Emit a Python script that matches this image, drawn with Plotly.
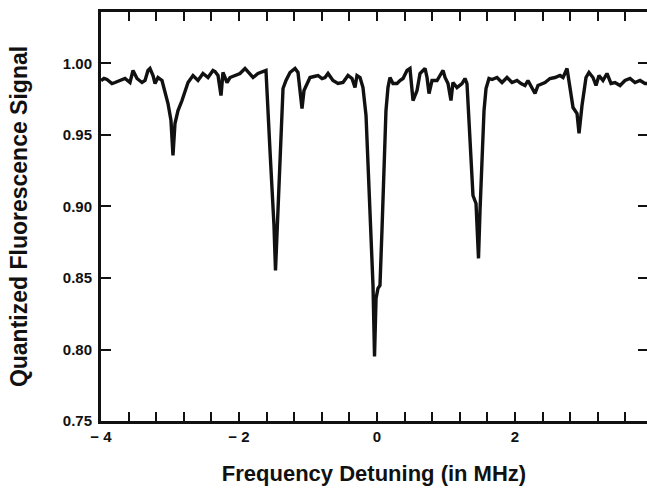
import plotly.graph_objects as go

# Frequency detuning (MHz)
detuning = [
    -4.00, -3.957, -3.913, -3.841, -3.797, -3.725, -3.652, -3.580, -3.536, -3.478,
    -3.406, -3.362, -3.319, -3.290, -3.246, -3.217, -3.174, -3.116, -3.072, -3.029,
    -2.986, -2.957, -2.928, -2.884, -2.826, -2.783, -2.739, -2.667, -2.594, -2.522,
    -2.449, -2.377, -2.348, -2.304, -2.261, -2.232, -2.174, -2.130, -2.058, -1.986,
    -1.913, -1.841, -1.797, -1.725, -1.652, -1.609, -1.551, -1.493, -1.471, -1.449,
    -1.406, -1.362, -1.319, -1.261, -1.188, -1.145, -1.116, -1.087, -1.058, -1.029,
    -0.971, -0.913, -0.855, -0.797, -0.754, -0.710, -0.638, -0.565, -0.493, -0.420,
    -0.362, -0.319, -0.290, -0.246, -0.203, -0.159, -0.130, -0.101, -0.072, -0.058,
    -0.036, -0.014, 0.014, 0.043, 0.072, 0.101, 0.130, 0.159, 0.188, 0.232,
    0.290, 0.333, 0.377, 0.435, 0.478, 0.522, 0.580, 0.623, 0.696, 0.725,
    0.754, 0.797, 0.870, 0.913, 0.957, 0.986, 1.029, 1.072, 1.101, 1.159,
    1.232, 1.275, 1.304, 1.333, 1.362, 1.391, 1.435, 1.471, 1.493, 1.522,
    1.551, 1.580, 1.623, 1.667, 1.739, 1.812, 1.884, 1.957, 2.029, 2.087,
    2.145, 2.188, 2.246, 2.290, 2.333, 2.406, 2.435, 2.507, 2.580, 2.652,
    2.696, 2.754, 2.797, 2.841, 2.899, 2.928, 2.971, 2.986, 3.029, 3.072,
    3.130, 3.174, 3.217, 3.275, 3.333, 3.391, 3.449, 3.522, 3.594, 3.667,
    3.739, 3.812, 3.884, 3.930,
]

# Quantized fluorescence signal
signal = [
    0.9881, 0.9895, 0.9888, 0.9860, 0.9867, 0.9881, 0.9895, 0.9867, 0.9951, 0.9895,
    0.9867, 0.9881, 0.9951, 0.9965, 0.9916, 0.9860, 0.9902, 0.9881, 0.9790, 0.9720,
    0.9601, 0.9357, 0.9580, 0.9671, 0.9741, 0.9811, 0.9867, 0.9916, 0.9881, 0.9930,
    0.9902, 0.9951, 0.9944, 0.9916, 0.9776, 0.9937, 0.9867, 0.9902, 0.9916, 0.9930,
    0.9965, 0.9930, 0.9902, 0.9930, 0.9944, 0.9951, 0.9392, 0.8867, 0.8553, 0.8833,
    0.9392, 0.9825, 0.9881, 0.9937, 0.9965, 0.9937, 0.9811, 0.9685, 0.9811, 0.9846,
    0.9902, 0.9909, 0.9916, 0.9895, 0.9902, 0.9930, 0.9881, 0.9860, 0.9867, 0.9916,
    0.9895, 0.9832, 0.9916, 0.9902, 0.9832, 0.9636, 0.9322, 0.9042, 0.8693, 0.8448,
    0.7952, 0.8357, 0.8427, 0.8448, 0.8833, 0.9322, 0.9671, 0.9832, 0.9902, 0.9860,
    0.9860, 0.9881, 0.9895, 0.9951, 0.9965, 0.9741, 0.9811, 0.9930, 0.9965, 0.9902,
    0.9790, 0.9881, 0.9881, 0.9916, 0.9951, 0.9902, 0.9860, 0.9741, 0.9867, 0.9832,
    0.9860, 0.9895, 0.9860, 0.9601, 0.9322, 0.9077, 0.9021, 0.8637, 0.8972, 0.9322,
    0.9671, 0.9825, 0.9895, 0.9888, 0.9902, 0.9867, 0.9902, 0.9867, 0.9881, 0.9860,
    0.9846, 0.9881, 0.9832, 0.9790, 0.9846, 0.9860, 0.9867, 0.9895, 0.9902, 0.9916,
    0.9902, 0.9965, 0.9832, 0.9692, 0.9650, 0.9511, 0.9706, 0.9762, 0.9902, 0.9937,
    0.9902, 0.9846, 0.9916, 0.9881, 0.9930, 0.9860, 0.9867, 0.9846, 0.9881, 0.9895,
    0.9867, 0.9881, 0.9860, 0.9860,
]

x_tickvals = [-4, -2, 0, 2]
x_ticktext = ["\u2212 4", "\u2212 2", "0", "2"]
y_tickvals = [0.75, 0.80, 0.85, 0.90, 0.95, 1.00]
y_ticktext = ["0.75", "0.80", "0.85", "0.90", "0.95", "1.00"]

FONT = "Liberation Sans, Arial, sans-serif"
INK = "#111111"

fig = go.Figure()
fig.add_trace(go.Scatter(
    x=detuning, y=signal, mode="lines",
    line=dict(color=INK, width=3.4), showlegend=False, hoverinfo="skip",
))
# invisible trace to attach the right-hand tick axis
fig.add_trace(go.Scatter(x=[None], y=[None], yaxis="y2", showlegend=False))

fig.update_layout(
    width=647, height=496,
    margin=dict(l=101, r=0, t=12, b=75),
    paper_bgcolor="white", plot_bgcolor="white",
    font=dict(family=FONT, color=INK, size=15, weight=700),
    xaxis=dict(
        range=[-4, 3.913], showgrid=False, zeroline=False,
        showline=True, linecolor=INK, linewidth=3, mirror="ticks",
        tickmode="array", tickvals=x_tickvals, ticktext=x_ticktext,
        ticks="inside", ticklen=9, tickwidth=2, tickcolor=INK,
        minor=dict(dtick=0.4, tick0=-4, ticks="inside", ticklen=9,
                   tickwidth=2, tickcolor=INK, showgrid=False),
        tickfont=dict(size=15, family=FONT, weight=700),
        title=dict(text="Frequency Detuning (in MHz)", standoff=22,
                   font=dict(size=22, family=FONT, weight=700)),
    ),
    yaxis=dict(
        range=[0.75, 1.036], showgrid=False, zeroline=False,
        showline=True, linecolor=INK, linewidth=3,
        tickmode="array", tickvals=y_tickvals, ticktext=y_ticktext,
        ticks="inside", ticklen=10, tickwidth=2, tickcolor=INK,
        ticklabelstandoff=3,
        tickfont=dict(size=15, family=FONT, weight=700),
        title=dict(text="Quantized Fluorescence Signal", standoff=29,
                   font=dict(size=23, family=FONT, weight=700)),
    ),
    yaxis2=dict(
        overlaying="y", side="right", range=[0.75, 1.036],
        showgrid=False, zeroline=False, showline=False,
        tickmode="array", tickvals=y_tickvals, showticklabels=False,
        ticks="inside", ticklen=9, tickwidth=2, tickcolor=INK,
    ),
)

fig.write_html("out.html")
